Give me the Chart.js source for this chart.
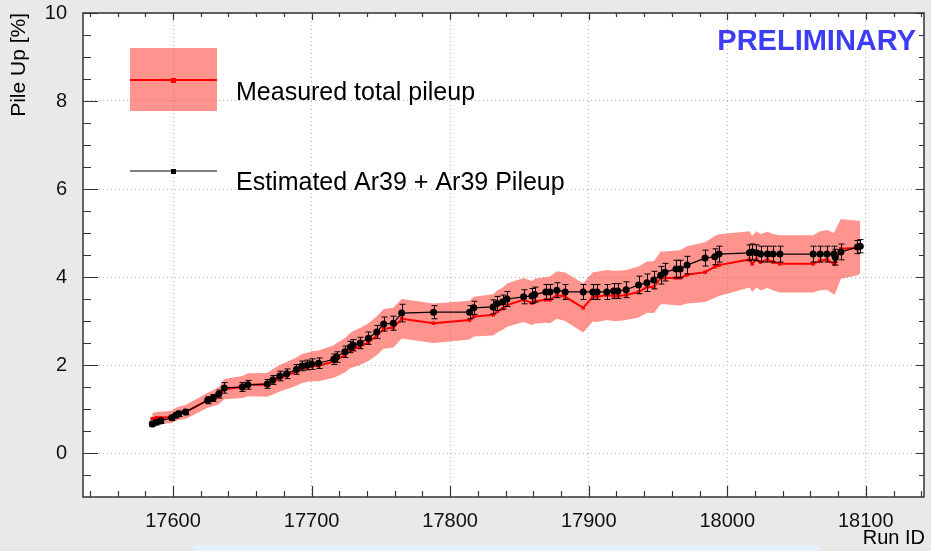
<!DOCTYPE html>
<html>
<head>
<meta charset="utf-8">
<script src="https://cdn.jsdelivr.net/npm/chart.js@4.4.1/dist/chart.umd.min.js"></script>
<style>
html,body{margin:0;padding:0;background:#ebebeb;}
#wrap{width:931px;height:551px;position:relative;}
</style>
</head>
<body>
<div id="wrap"><canvas id="c" width="931" height="551"></canvas></div>
<script>
// ---- data ----
const runs = [17585,17588,17591,17599,17602,17604,17609,17625,17629,17633,
  17637,17650,17654,17668,17672,17677,17682,17689,17693,17697,
  17700,17705,17716,17718,17724,17728,17730,17735,17741,17747,
  17752,17759,17765,17788,17814,17817,17831,17834,17838,17841,
  17853,17859,17861,17869,17872,17877,17883,17896,17903,17906,
  17913,17918,17921,17927,17936,17942,17947,17952,17955,17963,
  17966,17971,17984,17991,17994,18016,18018,18021,18024,18029,
  18033,18038,18062,18067,18072,18077,18078,18082,18094,18096];

const measured = [0.78,0.80,0.80,0.82,0.88,0.90,0.93,1.20,1.25,1.30,
  1.45,1.50,1.55,1.55,1.62,1.70,1.76,1.85,1.92,1.95,
  1.97,1.98,2.08,2.12,2.22,2.33,2.36,2.42,2.52,2.66,
  2.82,2.85,3.05,2.95,3.02,3.10,3.14,3.22,3.28,3.36,
  3.48,3.41,3.45,3.48,3.48,3.59,3.55,3.30,3.55,3.55,
  3.59,3.57,3.57,3.59,3.66,3.77,3.77,3.98,3.98,3.98,
  3.98,4.05,4.11,4.23,4.27,4.40,4.30,4.40,4.34,4.39,
  4.34,4.30,4.30,4.37,4.39,4.30,4.35,4.64,4.66,4.68];

const measuredErr = [0.13,0.13,0.14,0.14,0.15,0.15,0.16,0.17,0.18,0.20,
  0.23,0.25,0.26,0.27,0.29,0.30,0.31,0.32,0.33,0.33,
  0.34,0.35,0.37,0.38,0.39,0.40,0.41,0.42,0.43,0.44,
  0.45,0.45,0.45,0.45,0.44,0.45,0.47,0.48,0.48,0.49,
  0.50,0.50,0.51,0.52,0.53,0.54,0.55,0.56,0.56,0.57,
  0.57,0.57,0.57,0.57,0.58,0.58,0.59,0.60,0.60,0.62,
  0.63,0.65,0.68,0.70,0.70,0.64,0.64,0.64,0.64,0.64,
  0.64,0.65,0.65,0.67,0.68,0.70,0.72,0.68,0.62,0.60];

const estimated = [0.66,0.70,0.73,0.80,0.86,0.89,0.93,1.20,1.25,1.34,
  1.48,1.50,1.55,1.57,1.66,1.75,1.80,1.90,1.98,2.00,
  2.02,2.04,2.13,2.18,2.30,2.41,2.45,2.50,2.61,2.75,
  2.93,2.95,3.18,3.20,3.20,3.30,3.32,3.40,3.43,3.50,
  3.55,3.57,3.60,3.66,3.66,3.70,3.66,3.66,3.66,3.66,
  3.66,3.68,3.68,3.71,3.82,3.87,3.93,4.04,4.11,4.18,
  4.18,4.27,4.43,4.46,4.52,4.55,4.57,4.55,4.52,4.52,
  4.52,4.52,4.52,4.52,4.52,4.52,4.45,4.57,4.68,4.70];

const estimatedErr = [0.06,0.06,0.06,0.06,0.06,0.06,0.06,0.08,0.08,0.09,
  0.12,0.10,0.10,0.10,0.10,0.11,0.11,0.11,0.11,0.11,
  0.12,0.12,0.12,0.12,0.13,0.13,0.13,0.13,0.14,0.15,
  0.16,0.16,0.20,0.15,0.15,0.15,0.16,0.16,0.16,0.17,
  0.16,0.17,0.17,0.17,0.17,0.17,0.17,0.17,0.17,0.17,
  0.17,0.17,0.17,0.18,0.20,0.20,0.20,0.20,0.20,0.20,
  0.20,0.20,0.18,0.18,0.18,0.18,0.18,0.18,0.18,0.18,
  0.18,0.18,0.18,0.18,0.18,0.18,0.18,0.18,0.15,0.15];

const xTickLabels = [17600,17700,17800,17900,18000,18100];
const yTickLabels = [0,2,4,6,8,10];

const legendLabels = ["Measured total pileup", "Estimated Ar39 + Ar39 Pileup"];
const xTitle = "Run ID";
const yTitle = "Pile Up [%]";
const watermark = "PRELIMINARY";

// ---- style ----
const FONT = "'Liberation Sans', Arial, Helvetica, sans-serif";
const BAND = 'rgba(255,60,50,0.55)';

const pts = (ys) => runs.map((r,i)=>({x:r, y:ys[i]}));
const upper = measured.map((v,i)=>v+measuredErr[i]);
const lower = measured.map((v,i)=>v-measuredErr[i]);

const rootPlugin = {
  id: 'rootStyle',
  beforeDraw(chart){
    const ctx = chart.ctx, a = chart.chartArea;
    ctx.save();
    ctx.fillStyle = '#e9e9e9';
    ctx.fillRect(0,0,chart.width,chart.height);
    ctx.fillStyle = '#e4f0fb';
    ctx.fillRect(193,545,626,6);
    ctx.fillStyle = '#ffffff';
    ctx.fillRect(a.left,a.top,a.right-a.left,a.bottom-a.top);
    ctx.restore();
  },
  beforeDatasetDraw(chart,args){
    if(args.index!==0) return;
    const ctx = chart.ctx, xs = chart.scales.x, ys = chart.scales.y;
    ctx.save();
    ctx.strokeStyle = '#000';
    ctx.lineWidth = 1;
    for(let i=0;i<runs.length;i++){
      const px = Math.round(xs.getPixelForValue(runs[i]))+0.5;
      const y1 = ys.getPixelForValue(estimated[i]+estimatedErr[i]);
      const y2 = ys.getPixelForValue(estimated[i]-estimatedErr[i]);
      ctx.beginPath();
      ctx.moveTo(px,y1); ctx.lineTo(px,y2);
      ctx.moveTo(px-3,y1); ctx.lineTo(px+3,y1);
      ctx.moveTo(px-3,y2); ctx.lineTo(px+3,y2);
      ctx.stroke();
    }
    ctx.restore();
  },
  afterDraw(chart){
    const ctx = chart.ctx, a = chart.chartArea, xs = chart.scales.x, ys = chart.scales.y;
    ctx.save();
    // frame
    ctx.strokeStyle = '#333';
    ctx.lineWidth = 1.5;
    ctx.strokeRect(a.left,a.top,a.right-a.left,a.bottom-a.top);
    // ticks
    ctx.lineWidth = 1.2;
    ctx.beginPath();
    for(let v=17540; v<=18140; v+=20){
      const px = Math.round(xs.getPixelForValue(v))+0.5;
      if(px<a.left||px>a.right) continue;
      const major = (v%100===0);
      ctx.moveTo(px,a.bottom); ctx.lineTo(px,a.bottom-(major?11:6));
      ctx.moveTo(px,a.top); ctx.lineTo(px,a.top+(major?7:4));
    }
    for(let k=-2; k<=20; k++){
      const v = k/2;
      const py = Math.round(ys.getPixelForValue(v))+0.5;
      if(py<a.top-0.5||py>a.bottom) continue;
      const major = (k%4===0);
      ctx.moveTo(a.left,py); ctx.lineTo(a.left+(major?15:8),py);
      ctx.moveTo(a.right,py); ctx.lineTo(a.right-(major?8:5),py);
    }
    ctx.stroke();

    // watermark
    ctx.fillStyle = '#3c3cf4';
    ctx.font = 'bold 29px '+FONT;
    ctx.textAlign = 'right';
    ctx.textBaseline = 'alphabetic';
    ctx.fillText(watermark, 916, 50);

    // legend
    ctx.fillStyle = BAND;
    ctx.fillRect(130,48,87,63);
    ctx.strokeStyle = '#ff0000';
    ctx.lineWidth = 2;
    ctx.beginPath(); ctx.moveTo(130,80); ctx.lineTo(217,80); ctx.stroke();
    ctx.fillStyle = '#ff0000';
    ctx.fillRect(171,78,5,5);
    ctx.strokeStyle = '#000';
    ctx.lineWidth = 1.2;
    ctx.beginPath(); ctx.moveTo(130,171); ctx.lineTo(217,171); ctx.stroke();
    ctx.fillStyle = '#000';
    ctx.fillRect(171,169,5,5);
    ctx.font = '25px '+FONT;
    ctx.textAlign = 'left';
    ctx.fillText(legendLabels[0], 236, 100);
    ctx.fillText(legendLabels[1], 236, 190);

    // axis titles
    ctx.font = '20px '+FONT;
    ctx.textAlign = 'right';
    ctx.textBaseline = 'middle';
    ctx.fillText(xTitle, 925, 538);
    ctx.save();
    ctx.translate(19,13);
    ctx.rotate(-Math.PI/2);
    ctx.font = '21px '+FONT;
    ctx.textAlign = 'right';
    ctx.textBaseline = 'middle';
    ctx.fillText(yTitle, 0, 0);
    ctx.restore();
    ctx.restore();
  }
};

const gridCfg = {
  color: '#b8b8b8',
  lineWidth: 1,
  drawTicks: false
};

new Chart(document.getElementById('c'), {
  type: 'line',
  data: {
    datasets: [
      { label: legendLabels[1], data: pts(estimated), borderColor: '#000', backgroundColor: '#000',
        borderWidth: 1.2, pointStyle: 'circle', pointRadius: 3.5, pointBorderWidth: 0, fill: false, tension: 0 },
      { label: legendLabels[0], data: pts(measured), borderColor: '#ff0000', backgroundColor: '#ff0000',
        borderWidth: 2, pointStyle: 'rect', pointRadius: 2.5, pointBorderWidth: 0, fill: false, tension: 0 },
      { label: 'band upper', data: pts(upper), borderWidth: 0, borderColor: 'rgba(0,0,0,0)', pointRadius: 0,
        backgroundColor: BAND, fill: '+1', tension: 0 },
      { label: 'band lower', data: pts(lower), borderWidth: 0, borderColor: 'rgba(0,0,0,0)', pointRadius: 0,
        fill: false, tension: 0 }
    ]
  },
  options: {
    responsive: false,
    animation: false,
    devicePixelRatio: 1,
    layout: { padding: { top: 13, right: 7, left: 0, bottom: 0 } },
    plugins: { legend: { display: false }, tooltip: { enabled: false } },
    scales: {
      x: {
        type: 'linear', min: 17535, max: 18142,
        afterBuildTicks: s => { s.ticks = xTickLabels.map(v=>({value:v})); },
        afterFit: s => { s.height = 54; s.paddingLeft = 0; s.paddingRight = 0; },
        ticks: { font: { family: FONT, size: 20 }, color: '#111', padding: 12, maxRotation: 0,
                 callback: v => String(v) },
        grid: Object.assign({}, gridCfg),
        border: { display: false, dash: [1,3] }
      },
      y: {
        type: 'linear', min: -1, max: 10,
        afterBuildTicks: s => { s.ticks = yTickLabels.map(v=>({value:v})); },
        afterFit: s => { s.width = 83; s.paddingTop = 0; s.paddingBottom = 0; },
        ticks: { font: { family: FONT, size: 20 }, color: '#111', padding: 16,
                 callback: v => String(v) },
        grid: Object.assign({}, gridCfg),
        border: { display: false, dash: [1,3] }
      }
    }
  },
  plugins: [rootPlugin]
});
</script>
</body>
</html>
